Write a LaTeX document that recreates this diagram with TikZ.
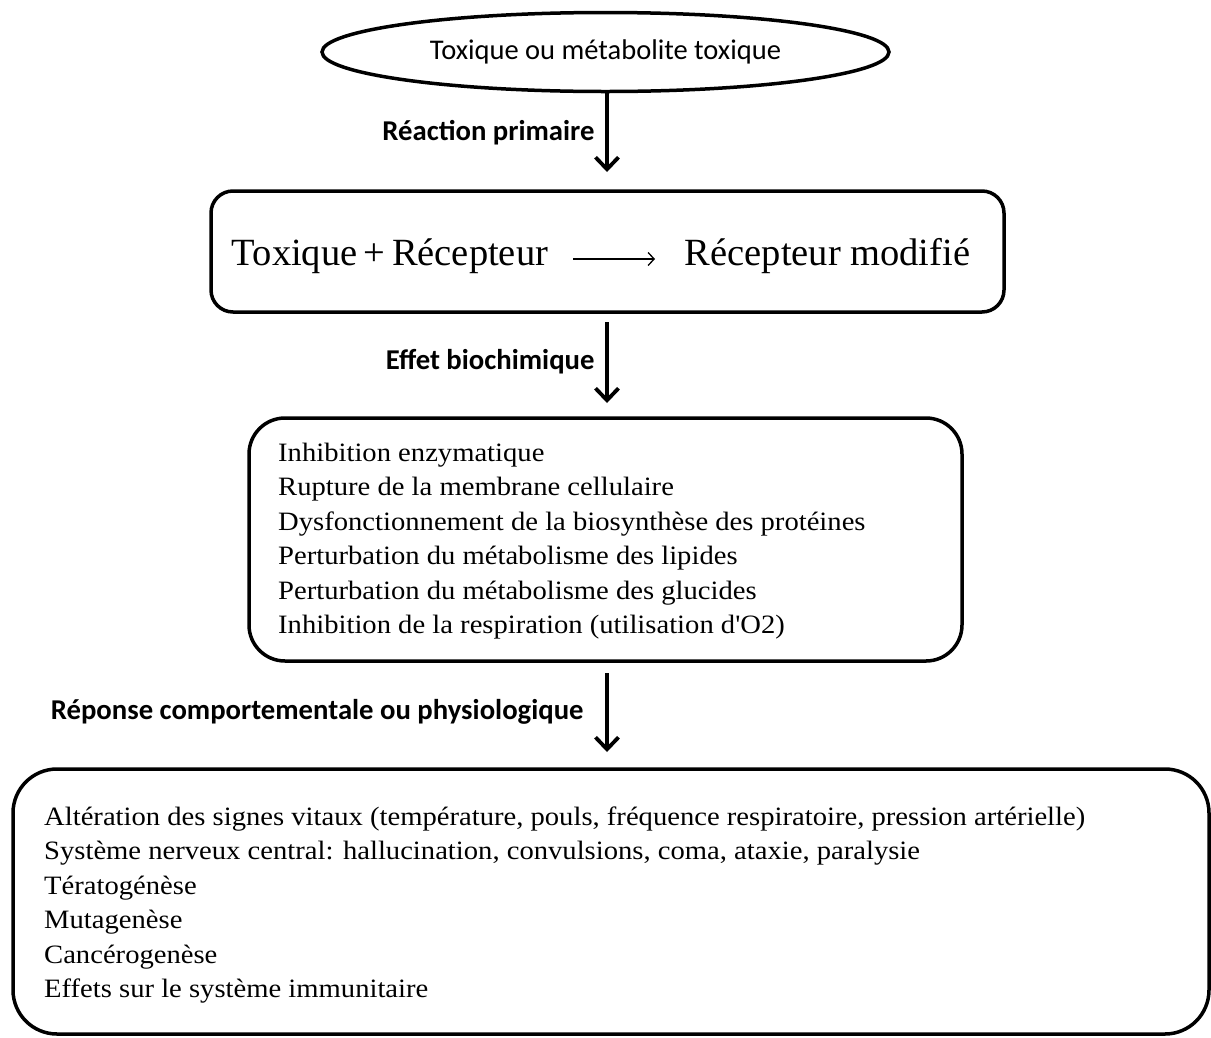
\documentclass[tikz,border=0pt]{standalone}
\usepackage{fontspec}
\setmainfont{Liberation Serif}
\newfontfamily\calfont{Carlito}
\newfontfamily\listfont[FakeStretch=1.08]{Liberation Serif}
\usetikzlibrary{shapes.geometric,arrows.meta}

\tikzset{
    box/.style={draw,line width=3.5pt,rounded corners=#1,inner sep=0pt},
    liste/.style={align=left,anchor=west,inner sep=0pt,font=\listfont\fontsize{26.5}{34.5}\selectfont},
    etape/.style={font=\calfont\bfseries\fontsize{28.7}{30}\selectfont,anchor=east},
    fleche/.style={line width=3.5pt,-{Straight Barb[length=12pt,width=23pt,line width=3.8pt]}}
}

\begin{document}
\begin{tikzpicture}[x=1pt,y=-1pt]
    \useasboundingbox (0,0) rectangle (1211,1037);

    % source
    \node[draw,ellipse,line width=3.5pt,minimum width=567pt,minimum height=79pt,inner sep=0pt]
        (src) at (605.5,52) {\calfont\fontsize{28.5}{30}\selectfont Toxique ou métabolite toxique};

    % boites
    \node[box=22pt,minimum width=793pt,minimum height=121pt] (rec) at (607.5,251.5) {};
    \node[box=36pt,minimum width=713pt,minimum height=243pt] (bio) at (605.5,539.5) {};
    \node[box=44pt,minimum width=1196pt,minimum height=265pt] (phy) at (611,901.5) {};

    % reaction
    \node[font=\fontsize{38.5}{40}\selectfont] (tr) at (390,256) {Toxique\,+\,Récepteur};
    \node[font=\fontsize{38.5}{40}\selectfont] (rm) at (827.5,256) {Récepteur modifié};
    \draw[line width=1.3pt,-{Straight Barb[length=6pt,width=13pt,line width=1.3pt]}]
        (573,259) coordinate (r1) -- (655,259) coordinate (r2);

    % listes
    \node[liste] (lb) at (278,541) {Inhibition enzymatique\\
        Rupture de la membrane cellulaire\\
        Dysfonctionnement de la biosynthèse des protéines\\
        Perturbation du métabolisme des lipides\\
        Perturbation du métabolisme des glucides\\
        Inhibition de la respiration (utilisation d'O2)};
    \node[liste] (lp) at (44,905) {Altération des signes vitaux (température, pouls, fréquence respiratoire, pression artérielle)\\
        Système nerveux central: hallucination, convulsions, coma, ataxie, paralysie\\
        Tératogénèse\\
        Mutagenèse\\
        Cancérogenèse\\
        Effets sur le système immunitaire};

    % fleches
    \draw[fleche] (src.south -| 607,0) coordinate (a1) -- (607,172) coordinate (b1);
    \draw[fleche] (607,322) coordinate (a2) -- (607,403) coordinate (b2);
    \draw[fleche] (607,673) coordinate (a3) -- (607,752) coordinate (b3);

    \node[etape] at (598,133) {Réaction primaire};
    \node[etape] at (598,362) {Effet biochimique};
    \node[etape] at (587,712) {Réponse comportementale ou physiologique};
\end{tikzpicture}
\end{document}
